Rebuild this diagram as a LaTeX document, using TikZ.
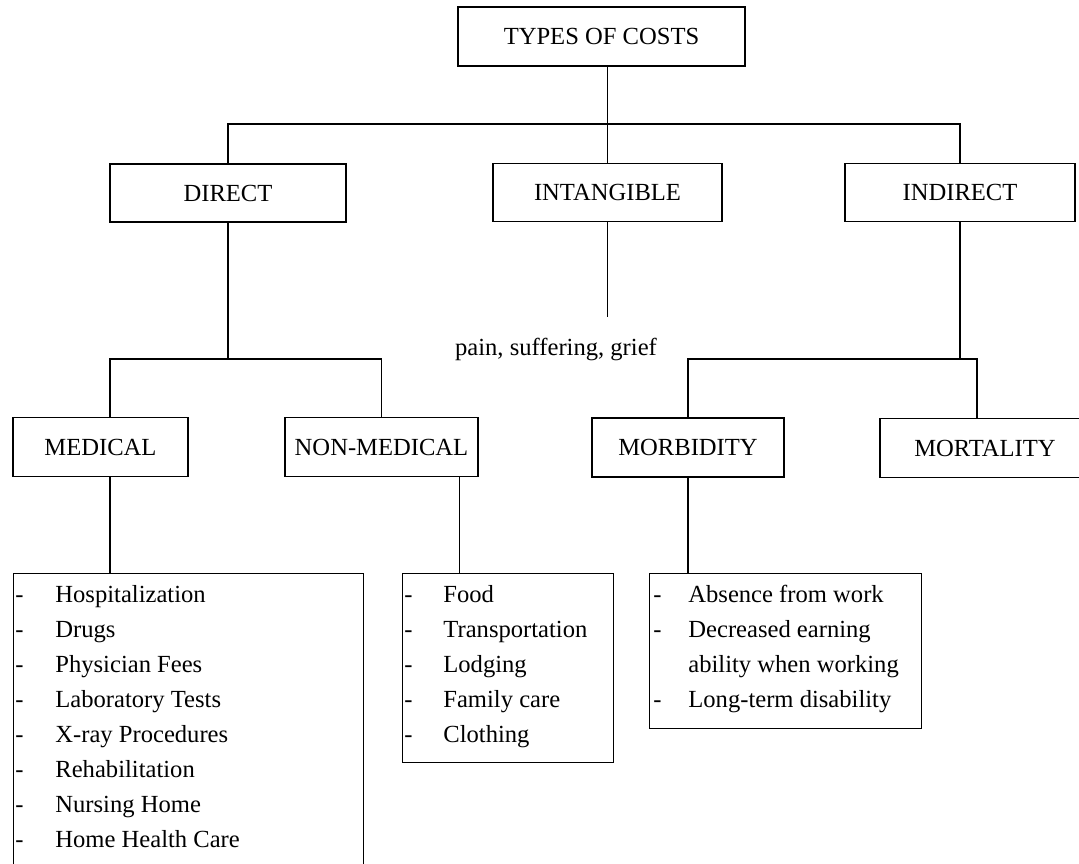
\documentclass[tikz,border=0pt]{standalone}
\usepackage{fontspec}
\setmainfont{Liberation Serif}
\usetikzlibrary{positioning}

\tikzset{
  costbox/.style={draw, line width=0.7pt, inner sep=0pt, minimum height=29.5pt,
    font=\fontsize{12.3}{14}\selectfont},
  listbox/.style={draw, line width=0.7pt, inner sep=0pt, anchor=north west},
  items/.style={inner sep=0pt, align=left, font=\fontsize{12.3}{17.5}\selectfont},
  link/.style={line width=0.7pt}
}

\begin{document}
\begin{tikzpicture}[x=0.5pt, y=-0.5pt]
  \path[use as bounding box, clip] (0,0) rectangle (1079,863);
  % top level
  \node[costbox, minimum width=143.5pt] (types) at (601.5,36.5) {TYPES OF COSTS};
  \node[costbox, minimum width=118pt, minimum height=29pt] (direct) at (228,193) {DIRECT};
  \node[costbox, minimum width=114.5pt, minimum height=29pt] (intang) at (607.5,192.5) {INTANGIBLE};
  \node[costbox, minimum width=115pt, minimum height=29pt] (indir) at (960,192.5) {INDIRECT};
  \coordinate (topbus) at (607.5,124);
  \draw[link] (intang.north |- types.south) -- (intang.north);
  \draw[link] (direct.north) |- (topbus) -| (indir.north);

  % second level
  \node[costbox, minimum width=87.5pt] (med) at (100.5,447) {MEDICAL};
  \node[costbox, minimum width=96.5pt] (nonmed) at (381.5,447) {NON-MEDICAL};
  \node[costbox, minimum width=96pt] (morb) at (688,447.5) {MORBIDITY};
  \node[costbox, minimum width=105pt] (mort) at (985,448) {MORTALITY};
  \coordinate (dbus) at (228,359);
  \coordinate (ibus) at (960,359);
  \coordinate (painend) at (607.5,317);
  \draw[link] (direct.south) -- (dbus);
  \draw[link] ([xshift=4.75pt]med.north) |- (dbus) -| (nonmed.north);
  \draw[link] (indir.south) -- (ibus);
  \draw[link] (morb.north) |- (ibus) -| ([xshift=-4pt]mort.north);
  \draw[link] (intang.south) -- (painend);
  \node[items, anchor=base] (pain) at (556,355) {pain, suffering, grief};

  % lists
  \node[listbox, minimum width=175pt, minimum height=200pt] (medlist) at (13,573) {};
  \node[listbox, minimum width=105.5pt, minimum height=94.5pt] (nonmedlist) at (402,573) {};
  \node[listbox, minimum width=136pt, minimum height=77.5pt] (morblist) at (649,573) {};
  \draw[link] ([xshift=4.75pt]med.south) -- ([xshift=4.75pt]med.south |- medlist.north);
  \draw[link] ([xshift=39pt]nonmed.south) -- ([xshift=39pt]nonmed.south |- nonmedlist.north);
  \draw[link] (morb.south) -- (morb.south |- morblist.north);

  \node[items, below right=2.25pt and 1pt of medlist.north west] (medtext) {%
    \begin{tabular}{@{}p{20pt}@{}l@{}}
      - & Hospitalization\\
      - & Drugs\\
      - & Physician Fees\\
      - & Laboratory Tests\\
      - & X-ray Procedures\\
      - & Rehabilitation\\
      - & Nursing Home\\
      - & Home Health Care
    \end{tabular}};
  \node[items, below right=2.25pt and 1pt of nonmedlist.north west] (nonmedtext) {%
    \begin{tabular}{@{}p{19.5pt}@{}l@{}}
      - & Food\\
      - & Transportation\\
      - & Lodging\\
      - & Family care\\
      - & Clothing
    \end{tabular}};
  \node[items, below right=2.25pt and 2pt of morblist.north west] (morbtext) {%
    \begin{tabular}{@{}p{17.5pt}@{}l@{}}
      - & Absence from work\\
      - & Decreased earning\\
        & ability when working\\
      - & Long-term disability
    \end{tabular}};
\end{tikzpicture}
\end{document}
